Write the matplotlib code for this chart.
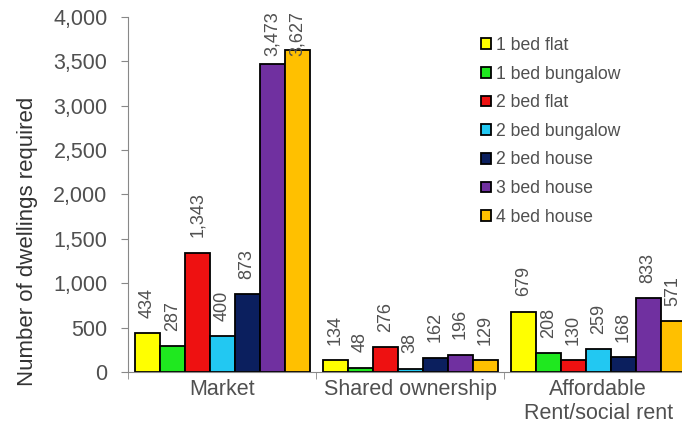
import numpy as np
import matplotlib
matplotlib.use("Agg")
from matplotlib import pyplot as plt
from matplotlib.ticker import FuncFormatter, FixedLocator

plt.rcParams['font.family'] = ['Liberation Sans', 'DejaVu Sans']

groups = ['Market', 'Shared ownership', 'Affordable\nRent/social rent']
types = ['1 bed flat', '1 bed bungalow', '2 bed flat', '2 bed bungalow',
         '2 bed house', '3 bed house', '4 bed house']
market = [434, 287, 1343, 400, 873, 3473, 3627]
shared = [134, 48, 276, 38, 162, 196, 129]
affordable = [679, 208, 130, 259, 168, 833, 571]

COLS = ['#ffff00', '#1fe81f', '#ee1111', '#22c8f2', '#0b1f5e', '#7030a0', '#ffc000']
TXT = '#505050'

values = np.array([market, shared, affordable])  # groups x types
x = np.arange(len(groups))
width = 0.133

fig = plt.figure(figsize=(6.82, 4.26), dpi=100)
ax = fig.add_axes([0.188, 0.127, 0.827, 0.833])

for i, t in enumerate(types):
    pos = x + (i - 3) * width
    bars = ax.bar(pos, values[:, i], width, color=COLS[i], edgecolor='black',
                  linewidth=1.3, label=t)
    for b, v in zip(bars, values[:, i]):
        xc = b.get_x() + b.get_width() / 2
        if v > 3300:
            # label pushed down to stay inside the chart area
            ax.text(xc, 4065, f'{v:,}', rotation=90, ha='center', va='top',
                    fontsize=13, color=TXT, clip_on=False)
        else:
            ax.annotate(f'{v:,}', (xc, v), xytext=(0, 11), textcoords='offset points',
                        rotation=90, ha='center', va='bottom', fontsize=13,
                        color=TXT, annotation_clip=False)

ax.set_xlim(-0.5, 2.5)
ax.set_ylim(0, 4000)
ax.set_yticks(np.arange(0, 4001, 500))
ax.yaxis.set_major_formatter(FuncFormatter(lambda v, p: f'{int(v):,}'))
ax.set_xticks(x)
ax.set_xticklabels(groups)
ax.xaxis.set_minor_locator(FixedLocator([-0.5, 0.5, 1.5, 2.5]))
ax.tick_params(axis='x', which='major', length=0, pad=5, labelsize=15.5, colors=TXT)
ax.tick_params(axis='x', which='minor', length=5, color='#888888')
ax.tick_params(axis='y', length=5, color='#888888', labelsize=15.5, colors=TXT, pad=10)
for lab in ax.get_xticklabels():
    lab.set_linespacing(1.2)

for s in ['top', 'right']:
    ax.spines[s].set_visible(False)
for s in ['left', 'bottom']:
    ax.spines[s].set_color('#888888')

ax.set_ylabel('Number of dwellings required', fontsize=16, color='#333333')
ax.yaxis.set_label_coords(-0.16, 0.369)

leg = ax.legend(loc='upper left', bbox_to_anchor=(0.695, 0.93),
                bbox_transform=fig.transFigure, frameon=False, fontsize=12.7,
                handlelength=0.55, handleheight=0.55, handletextpad=0.3,
                labelspacing=0.66, borderaxespad=0)
for t in leg.get_texts():
    t.set_color(TXT)

fig.savefig('out.png', dpi=100, facecolor='white')
